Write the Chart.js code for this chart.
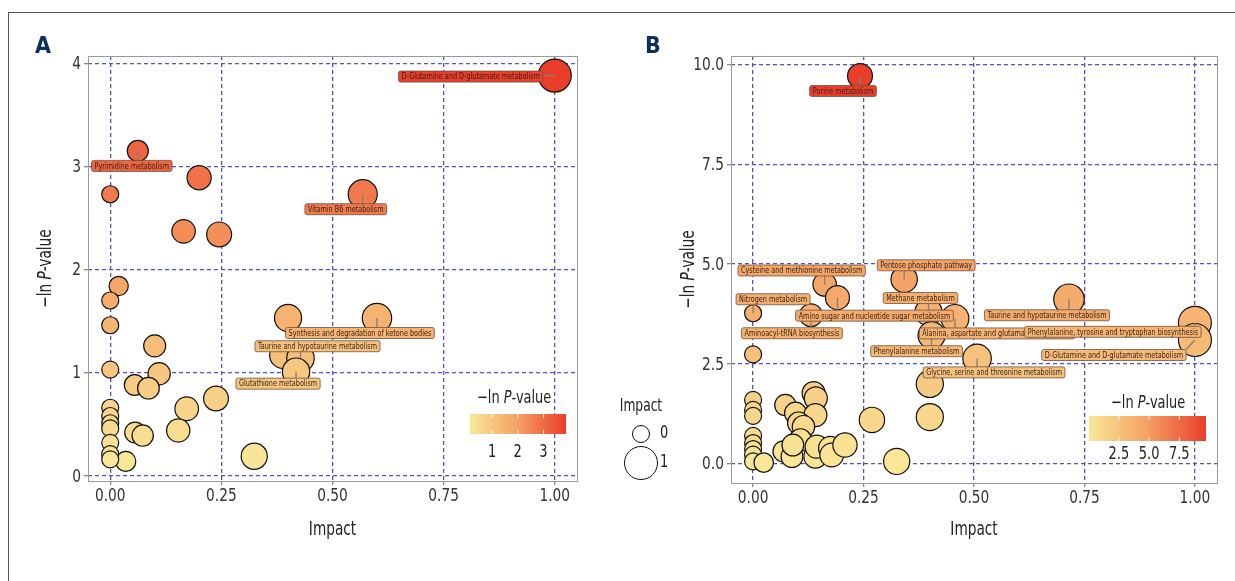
<!DOCTYPE html>
<html lang="en">
<head>
<meta charset="UTF-8">
<title>Pathway impact bubble plots</title>
<script src="https://cdn.jsdelivr.net/npm/chart.js"></script>
<style>
  body { margin: 0; background: #fff; }
  #wrap { position: relative; width: 1235px; height: 581px; overflow: hidden; }
  #frame { position: absolute; left: 8px; top: 12px; width: 1240px; height: 600px;
           border-top: 1px solid #555; border-left: 1px solid #555; }
  #cA { position: absolute; left: 0; top: 0; }
  #cB { position: absolute; left: 600px; top: 0; }
</style>
</head>
<body>
<div id="wrap">
  <div id="frame"></div>
  <canvas id="cA" width="600" height="581"></canvas>
  <canvas id="cB" width="635" height="581"></canvas>
</div>
<script>
// ---- data: panel A ----
const impactA = [0, 0.20, 0.165, 0.245, 0.019, 0, 0, 0.10, 0, 0.11, 0.055, 0.086, 0.238, 0.172, 0.153,
  0.056, 0.073, 0.324, 0.035, 0, 0, 0, 0, 0, 0, 0, 0.40, 0.389,
  0.60, 0.428, 0.418, 0.568, 0.062, 1.00];
const pvalA = [2.73, 2.89, 2.37, 2.34, 1.84, 1.70, 1.46, 1.26, 1.03, 0.99, 0.88, 0.85, 0.75, 0.65, 0.44,
  0.42, 0.39, 0.19, 0.14, 0.66, 0.58, 0.51, 0.46, 0.32, 0.21, 0.16, 1.53, 1.17,
  1.53, 1.14, 1.01, 2.73, 3.15, 3.88];
const pathwayA = [...Array(28).fill(''),
  'Synthesis and degradation of ketone bodies', 'Taurine and hypotaurine metabolism',
  'Glutathione metabolism', 'Vitamin B6 metabolism', 'Pyrimidine metabolism',
  'D-Glutamine and D-glutamate metabolism'];

// ---- data: panel B ----
const impactB = [0, 0.40, 0.40, 0, 0, 0, 0, 0, 0, 0, 0, 0.024,
  0.073, 0.096, 0.137, 0.142, 0.141, 0.103, 0.114, 0.107, 0.069, 0.088, 0.141, 0.144, 0.175, 0.178,
  0.208, 0.09, 0.269, 0.325,
  0.162, 0.191, 0.342, 0, 0.131, 0.397, 0.457, 0.404, 0.507, 0.715, 1.00, 1.00, 0.242];
const pvalB = [2.74, 2.00, 1.17, 1.60, 1.35, 1.20, 0.70, 0.52, 0.37, 0.23, 0.06, 0.03,
  1.47, 1.27, 1.77, 1.64, 1.22, 1.02, 0.93, 0.60, 0.31, 0.18, 0.18, 0.43, 0.39, 0.22,
  0.47, 0.47, 1.10, 0.06,
  4.49, 4.16, 4.62, 3.77, 3.72, 3.80, 3.64, 3.22, 2.64, 4.12, 3.53, 3.10, 9.71];
const pathwayB = [...Array(30).fill(''),
  'Cysteine and methionine metabolism', 'Amino sugar and nucleotide sugar metabolism',
  'Pentose phosphate pathway', 'Nitrogen metabolism', 'Aminoacyl-tRNA biosynthesis',
  'Methane metabolism', 'Alanina, aspartate and glutamate metabolism', 'Phenylalanine metabolism',
  'Glycine, serine and threonine metabolism', 'Taurine and hypotaurine metabolism',
  'Phenylalanine, tyrosine and tryptophan biosynthesis', 'D-Glutamine and D-glutamate metabolism',
  'Purine metabolism'];

// ---- tick labels ----
const xTicks = [0, 0.25, 0.5, 0.75, 1];
const yTicksA = [0, 1, 2, 3, 4];
const yTicksB = [0, 2.5, 5, 7.5, 10];
const colorTicksA = [1, 2, 3];
const colorTicksB = [2.5, 5, 7.5];
const sizeTicks = [0, 1];

// label placement (pixel offset of label centre from its bubble)
const nudgeA = {
  'D-Glutamine and D-glutamate metabolism': [-84, 1],
  'Pyrimidine metabolism': [-6, 15],
  'Vitamin B6 metabolism': [-17, 15],
  'Synthesis and degradation of ketone bodies': [-17, 15],
  'Taurine and hypotaurine metabolism': [17, -12],
  'Glutathione metabolism': [-18, 12]
};
const nudgeB = {
  'Purine metabolism': [-17, 15],
  'Cysteine and methionine metabolism': [-23, -14],
  'Amino sugar and nucleotide sugar metabolism': [37, 18],
  'Pentose phosphate pathway': [22, -14],
  'Nitrogen metabolism': [20, -14],
  'Aminoacyl-tRNA biosynthesis': [-19, 18],
  'Methane metabolism': [-8, -14],
  'Alanina, aspartate and glutamate metabolism': [42, 15],
  'Phenylalanine metabolism': [-15, 16],
  'Glycine, serine and threonine metabolism': [17, 14],
  'Taurine and hypotaurine metabolism': [-22, 16],
  'Phenylalanine, tyrosine and tryptophan biosynthesis': [-82, 9],
  'D-Glutamine and D-glutamate metabolism': [-81, 15]
};

const FONT = "'Liberation Sans Narrow', 'DejaVu Sans Condensed', 'Liberation Sans', sans-serif";
const GRID = '#5252c4';
const SQ = 0.8;  // horizontal squeeze to mimic the condensed face of the original

// yellow -> orange -> red, like the ggplot gradient
function lerp(a, b, t) { return a.map((v, i) => Math.round(v + (b[i] - v) * t)); }
function heat(t) {
  const lo = [249, 231, 152], mid = [244, 160, 100], hi = [233, 62, 42];
  const c = t < 0.5 ? lerp(lo, mid, t / 0.5) : lerp(mid, hi, (t - 0.5) / 0.5);
  return 'rgb(' + c.join(',') + ')';
}
const radius = x => 8.5 + 8 * Math.sqrt(x);

// squeezed text, anchored by align at x
function sqText(ctx, t, x, y, align, sq) {
  sq = sq || SQ;
  const w = ctx.measureText(t).width * sq;
  const x0 = align === 'center' ? x - w / 2 : align === 'right' ? x - w : x;
  ctx.save();
  ctx.textAlign = 'left';
  ctx.translate(x0, y);
  ctx.scale(sq, 1);
  ctx.fillText(t, 0, 0);
  ctx.restore();
}
function richWidth(ctx, parts, size) {
  let w = 0;
  parts.forEach(([t, it]) => { ctx.font = (it ? 'italic ' : '') + size + 'px ' + FONT; w += ctx.measureText(t).width; });
  return w * SQ;
}
function richText(ctx, parts, x, y, size) {
  let cx = x;
  parts.forEach(([t, it]) => {
    ctx.font = (it ? 'italic ' : '') + size + 'px ' + FONT;
    sqText(ctx, t, cx, y, 'left');
    cx += ctx.measureText(t).width * SQ;
  });
}
const pTitle = [['\u2212ln ', false], ['P', true], ['-value', false]];

function makePanel(id, cfg) {
  const vmin = Math.min(...cfg.pval), vmax = Math.max(...cfg.pval);
  const cols = cfg.pval.map(v => heat((v - vmin) / (vmax - vmin)));

  const overlay = {
    id: 'overlay',
    beforeDatasetsDraw(chart) {
      const { ctx, chartArea: a } = chart;
      ctx.save();
      ctx.strokeStyle = '#9a9a9a';
      ctx.lineWidth = 1;
      ctx.strokeRect(a.left + 0.5, a.top + 0.5, a.right - a.left, a.bottom - a.top);
      ctx.restore();
    },
    afterDatasetsDraw(chart) {
      const { ctx, scales } = chart;
      const boxes = [];
      ctx.save();
      ctx.font = '9px ' + FONT;
      cfg.names.forEach((n, i) => {
        if (!n) return;
        const px = scales.x.getPixelForValue(cfg.impact[i]);
        const py = scales.y.getPixelForValue(cfg.pval[i]);
        const [dx, dy] = cfg.nudge[n];
        const w = ctx.measureText(n).width * SQ + 6, h = 11;
        const bx = px + dx - w / 2, by = py + dy - h / 2;
        boxes.push({ n, px, py, bx, by, w, h, c: cols[i] });
      });
      // connector segments first
      ctx.strokeStyle = '#808080';
      ctx.lineWidth = 1.3;
      boxes.forEach(b => {
        const nx = Math.max(b.bx, Math.min(b.px, b.bx + b.w));
        const ny = Math.max(b.by, Math.min(b.py, b.by + b.h));
        ctx.beginPath(); ctx.moveTo(b.px, b.py); ctx.lineTo(nx, ny); ctx.stroke();
      });
      boxes.forEach(b => {
        ctx.beginPath();
        ctx.roundRect(b.bx, b.by, b.w, b.h, 2);
        ctx.fillStyle = b.c; ctx.fill();
        ctx.strokeStyle = '#6e5040'; ctx.lineWidth = 0.8; ctx.stroke();
        ctx.fillStyle = '#3a2418';
        ctx.textBaseline = 'middle';
        sqText(ctx, b.n, b.bx + b.w / 2, b.by + b.h / 2 + 0.5, 'center');
      });
      ctx.restore();
    },
    afterDraw(chart) {
      const { ctx, chartArea: a, scales } = chart;
      ctx.save();
      // tick labels
      ctx.fillStyle = '#333';
      ctx.textBaseline = 'middle';
      ctx.font = '18px ' + FONT;
      xTicks.forEach(v => sqText(ctx, v.toFixed(2), scales.x.getPixelForValue(v), a.bottom + 15, 'center', 0.85));
      cfg.yTicks.forEach(v => sqText(ctx, v.toFixed(cfg.yDigits), a.left - 7, scales.y.getPixelForValue(v) + 1, 'right', 0.85));
      // panel letter
      ctx.fillStyle = '#0d2f5e';
      ctx.font = 'bold 23px ' + FONT;
      ctx.textBaseline = 'alphabetic';
      ctx.fillText(cfg.letter, cfg.letterX, 53);
      // axis titles
      ctx.fillStyle = '#222';
      ctx.textBaseline = 'middle';
      ctx.font = '19px ' + FONT;
      sqText(ctx, 'Impact', (a.left + a.right) / 2, 530, 'center');
      ctx.save();
      ctx.translate(cfg.yTitleX, (a.top + a.bottom) / 2);
      ctx.rotate(-Math.PI / 2);
      const tw = richWidth(ctx, pTitle, 19);
      richText(ctx, pTitle, -tw / 2, 0, 19);
      ctx.restore();
      // colour bar
      const cb = cfg.bar;
      const g = ctx.createLinearGradient(cb.x, 0, cb.x + cb.w, 0);
      for (let k = 0; k <= 10; k++) g.addColorStop(k / 10, heat(k / 10));
      ctx.fillStyle = g;
      ctx.fillRect(cb.x, cb.y, cb.w, cb.h);
      ctx.fillStyle = '#222';
      richText(ctx, pTitle, cb.titleX, cb.titleY, 18);
      ctx.font = '17px ' + FONT;
      cb.ticks.forEach(v => {
        const x = cb.x + (v - vmin) / (vmax - vmin) * cb.w;
        ctx.strokeStyle = 'rgba(255,255,255,0.8)'; ctx.lineWidth = 1;
        ctx.beginPath();
        ctx.moveTo(x, cb.y); ctx.lineTo(x, cb.y + 4);
        ctx.moveTo(x, cb.y + cb.h - 4); ctx.lineTo(x, cb.y + cb.h);
        ctx.stroke();
        ctx.fillStyle = '#222';
        sqText(ctx, v.toFixed(cb.digits), x, cb.labelY, 'center', 0.85);
      });
      // size legend
      if (cfg.sizeLegend) {
        const s = cfg.sizeLegend;
        ctx.font = '17px ' + FONT;
        sqText(ctx, 'Impact', s.x, s.y, 'center');
        ctx.font = '17px ' + FONT;
        sizeTicks.forEach((v, k) => {
          const cy = s.rows[k];
          ctx.beginPath();
          ctx.arc(s.x, cy, radius(v), 0, Math.PI * 2);
          ctx.fillStyle = '#fff'; ctx.fill();
          ctx.strokeStyle = '#111'; ctx.lineWidth = 1; ctx.stroke();
          ctx.fillStyle = '#222';
          sqText(ctx, String(v), s.x + 19, cy, 'left', 0.85);
        });
      }
      ctx.restore();
    }
  };

  return new Chart(document.getElementById(id), {
    type: 'bubble',
    data: {
      datasets: [{
        data: cfg.impact.map((x, i) => ({ x: x, y: cfg.pval[i], r: radius(x) })),
        backgroundColor: cols,
        borderColor: '#111',
        borderWidth: 1.2,
        clip: false
      }]
    },
    options: {
      responsive: false,
      animation: false,
      events: [],
      layout: { padding: cfg.padding },
      plugins: { legend: { display: false }, tooltip: { enabled: false } },
      scales: {
        x: {
          type: 'linear', min: -0.05, max: 1.05,
          afterBuildTicks: s => { s.ticks = xTicks.map(v => ({ value: v })); },
          afterFit: s => { s.height = cfg.xAxisH; },
          ticks: { display: false },
          grid: { color: GRID, lineWidth: 1.3, tickLength: 4, tickColor: '#888' },
          border: { display: false, dash: [4, 3] }
        },
        y: {
          type: 'linear', min: cfg.yMin, max: cfg.yMax,
          afterBuildTicks: s => { s.ticks = cfg.yTicks.map(v => ({ value: v })); },
          afterFit: s => { s.width = cfg.yAxisW; },
          ticks: { display: false },
          grid: { color: GRID, lineWidth: 1.3, tickLength: 4, tickColor: '#888' },
          border: { display: false, dash: [4, 3] }
        }
      }
    },
    plugins: [overlay]
  });
}

makePanel('cA', {
  impact: impactA, pval: pvalA, names: pathwayA, nudge: nudgeA,
  yMin: -0.05, yMax: 4.07, yTicks: yTicksA, yDigits: 0,
  padding: { left: 0, top: 56, right: 23, bottom: 0 }, yAxisW: 88, xAxisH: 100,
  letter: 'A', letterX: 35, yTitleX: 46,
  bar: { x: 470, y: 414, w: 96, h: 20, ticks: colorTicksA, digits: 0, titleX: 477, titleY: 398, labelY: 453 }
});

makePanel('cB', {
  impact: impactB, pval: pvalB, names: pathwayB, nudge: nudgeB,
  yMin: -0.48, yMax: 10.21, yTicks: yTicksB, yDigits: 1,
  padding: { left: 0, top: 56, right: 18, bottom: 0 }, yAxisW: 131, xAxisH: 98,
  letter: 'B', letterX: 45, yTitleX: 89,
  bar: { x: 489, y: 416, w: 117, h: 25, ticks: colorTicksB, digits: 1, titleX: 511, titleY: 403, labelY: 455 },
  sizeLegend: { x: 41, y: 407, rows: [434, 463] }
});
</script>
</body>
</html>
